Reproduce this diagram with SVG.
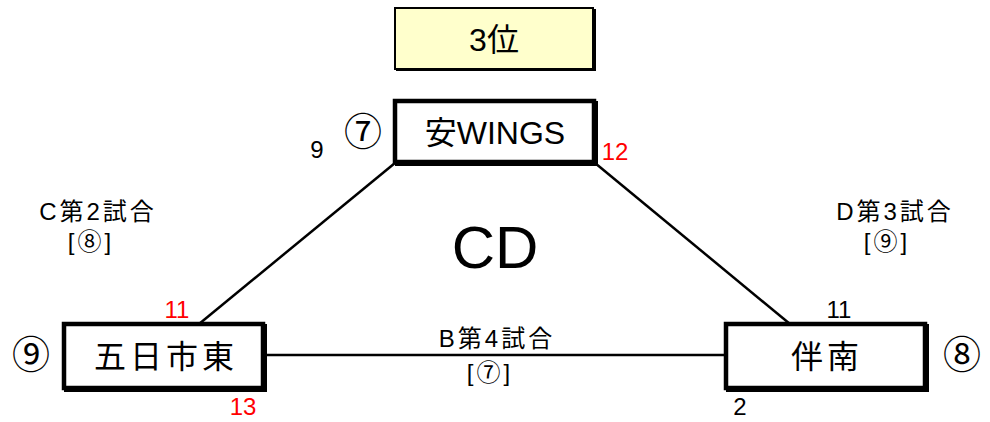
<svg xmlns="http://www.w3.org/2000/svg" width="990" height="422" viewBox="0 0 990 422">
<style>
text{font-family:"Liberation Sans","Noto Sans CJK JP",sans-serif;fill:#000;text-anchor:middle}
.node{font-size:32px}
.sm{font-size:24px}
.red{fill:#FF0000}
.lbl{font-size:24px;letter-spacing:3px}
.circ{font-size:38px;font-family:"Noto Sans CJK JP",sans-serif}
.box{fill:#fff;stroke:#000;stroke-width:4.5}
.sh{fill:#000}
.conn{stroke:#000;stroke-width:2.5;fill:none}
</style>
<rect width="990" height="422" fill="#fff"/>
<g id="connectors">
<line class="conn" x1="395" y1="163" x2="199" y2="324"/>
<line class="conn" x1="595" y1="163" x2="790" y2="324"/>
<line class="conn" x1="266" y1="355" x2="726" y2="355"/>
</g>
<g id="rank">
<rect x="396" y="9" width="200" height="62" fill="#000"/>
<rect x="395" y="8" width="198" height="61" fill="#FFFFCC" stroke="#000" stroke-width="2"/>
<text x="494" y="51" class="node">3位</text>
</g>
<g id="node-yasu">
<rect class="sh" x="395" y="101" width="203" height="65"/>
<rect class="box" x="395" y="101" width="199" height="61"/>
<text x="495" y="144" class="node">安WINGS</text>
<text x="363" y="145" class="circ">⑦</text>
<text x="317" y="158" class="sm">9</text>
<text x="615" y="160" class="sm red">12</text>
</g>
<g id="node-itsukaichi">
<rect class="sh" x="64" y="324" width="203" height="68"/>
<rect class="box" x="64" y="324" width="199" height="64"/>
<text x="166" y="368" class="node" letter-spacing="4">五日市東</text>
<text x="31" y="368" class="circ">⑨</text>
<text x="177" y="318" class="sm red">11</text>
<text x="243" y="415" class="sm red">13</text>
</g>
<g id="node-tomonan">
<rect class="sh" x="726" y="324" width="203" height="68"/>
<rect class="box" x="726" y="324" width="199" height="64"/>
<text x="827" y="368" class="node" letter-spacing="4">伴南</text>
<text x="962" y="368" class="circ">⑧</text>
<text x="839" y="318" class="sm">11</text>
<text x="740" y="415" class="sm">2</text>
</g>
<g id="labels">
<text x="495" y="268" font-size="60">CD</text>
<text x="98" y="220" class="lbl">C第2試合</text>
<text x="91" y="250" class="lbl">[⑧]</text>
<text x="895" y="220" class="lbl">D第3試合</text>
<text x="887" y="250" class="lbl">[⑨]</text>
<text x="497" y="347" class="lbl">B第4試合</text>
<text x="490" y="381" class="lbl">[⑦]</text>
</g>
</svg>
